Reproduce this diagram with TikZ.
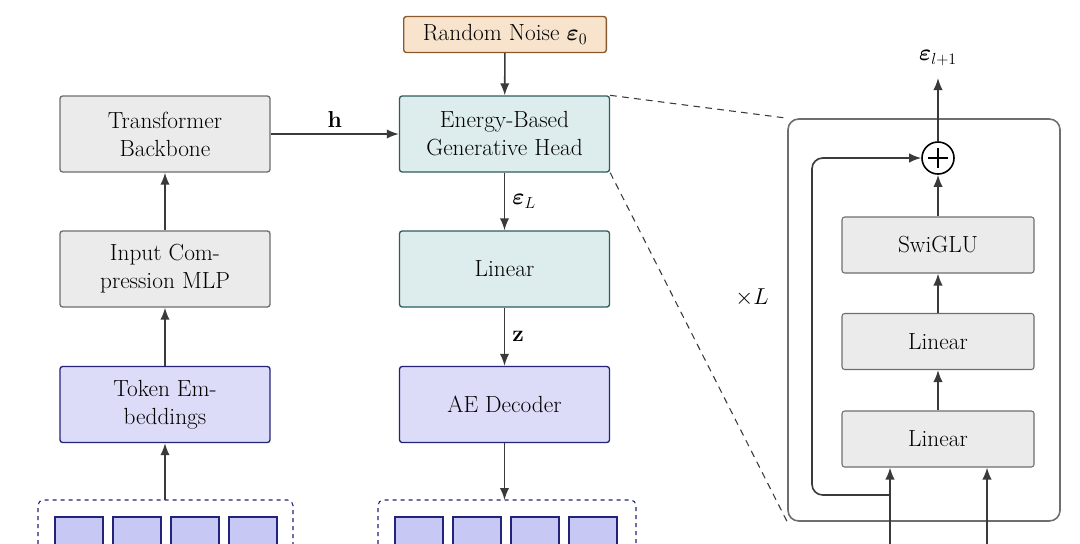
\documentclass[tikz,border=0pt]{standalone}
\usepackage{amsmath,bm}
\usetikzlibrary{arrows.meta}
\definecolor{grayF}{HTML}{EBEBEB}\definecolor{grayD}{HTML}{6E6E6E}
\definecolor{tealF}{HTML}{DDECEC}\definecolor{tealD}{HTML}{2F5C5C}
\definecolor{blueF}{HTML}{DCDCF8}\definecolor{blueD}{HTML}{23237A}
\definecolor{sqF}{HTML}{C8C8F4}
\definecolor{orF}{HTML}{F8E4CC}\definecolor{orD}{HTML}{8A5A2E}
\definecolor{arr}{HTML}{3A3A3A}
\begin{document}
\begin{tikzpicture}[x=0.75pt,y=-0.75pt,
 every node/.style={font=\fontsize{17.5}{21}\selectfont},
 box/.style={draw,rounded corners=2pt,line width=1pt,minimum width=157.5pt,minimum height=57pt,align=center,inner sep=0pt},
 gbox/.style={box,fill=grayF,draw=grayD},
 tbox/.style={box,fill=tealF,draw=tealD},
 bbox/.style={box,fill=blueF,draw=blueD},
 sbox/.style={draw=grayD,fill=grayF,rounded corners=2pt,line width=0.8pt,minimum width=144pt,minimum height=42pt,inner sep=0pt},
 sq/.style={draw=blueD,fill=sqF,line width=1.2pt,minimum width=36pt,minimum height=30pt,inner sep=0pt,anchor=north west},
 ar/.style={draw=arr,line width=1.2pt,-{Latex[length=9pt,width=7pt]}},
 dl/.style={draw=arr,dashed,line width=0.8pt,dash pattern=on 5pt off 4pt}]
\useasboundingbox (0,0) rectangle (1080,543);
\node[box,fill=orF,draw=orD,minimum height=27pt,minimum width=152pt] (noise) at (505,34.5) {Random Noise $\bm{\varepsilon}_0$};
\node[gbox] (tb) at (165,134) {Transformer\\Backbone};
\node[tbox] (eh) at (504.5,134) {Energy-Based\\Generative Head};
\node[gbox] (mlp) at (165,269) {Input Com-\\pression MLP};
\node[tbox] (lin) at (504.5,269) {Linear};
\node[bbox] (tok) at (165,404.5) {Token Em-\\beddings};
\node[bbox] (ae) at (504.5,404.5) {AE Decoder};
% dashed groups
\draw[draw=blueD,dashed,line width=0.8pt,rounded corners=4pt] (38,560) -- (38,500) -- (293,500) -- (293,560);
\draw[draw=blueD,dashed,line width=0.8pt,rounded corners=4pt] (378,560) -- (378,500) -- (636,500) -- (636,560);
\coordinate (g1) at (165,500); \coordinate (g2) at (504.5,500);
\foreach \x[count=\i] in {54,112,170,228}{\node[sq] (a\i) at (\x,516) {};}
\foreach \x[count=\i] in {394,452,510,568}{\node[sq] (b\i) at (\x,516) {};}
% left/mid arrows
\draw[ar] (g1) -- (tok);
\draw[ar] (tok) -- (mlp);
\draw[ar] (mlp) -- (tb);
\draw[ar] (tb) -- node[above=1pt]{$\mathbf{h}$} (eh);
\draw[ar] (noise) -- (eh);
\draw[ar] (eh) -- node[right=2pt]{$\bm{\varepsilon}_L$} (lin);
\draw[ar] (lin) -- node[right=2pt]{$\mathbf{z}$} (ae);
\draw[ar] (ae) -- (g2);
% right detail
\node[draw=grayD,line width=1.2pt,rounded corners=8pt,minimum width=204pt,minimum height=301.5pt,inner sep=0pt] (big) at (924,320) {};
\draw[dl] (eh.north east) -- (big.north west);
\draw[dl] (eh.south east) -- (big.south west);
\node (xl) at (752,298) {$\times L$};
\node[sbox] (sw) at (938,245) {SwiGLU};
\node[sbox] (l1) at (938,341.5) {Linear};
\node[sbox] (l2) at (938,439) {Linear};
\node[draw=black,circle,line width=1.2pt,minimum size=24pt,inner sep=0pt] (plus) at (938,158) {};
\draw[line width=0.9pt] (938,148) -- (938,168) (928,158) -- (948,158);
\node (eo) at (938,58) {$\bm{\varepsilon}_{l+1}$};
\coordinate (out) at (938,78);
\coordinate (in1) at (890,560); \coordinate (in2) at (987,560);
\draw[ar] (plus) -- (out);
\draw[ar] (sw) -- (plus);
\draw[ar] (l1) -- (sw);
\draw[ar] (l2) -- (l1);
\draw[ar] (in1) -- (in1|-l2.south);
\draw[ar] (in2) -- (in2|-l2.south);
\draw[ar,rounded corners=8pt] (890,495) -- (812,495) -- (812,158) -- (plus.west);
\end{tikzpicture}
\end{document}
